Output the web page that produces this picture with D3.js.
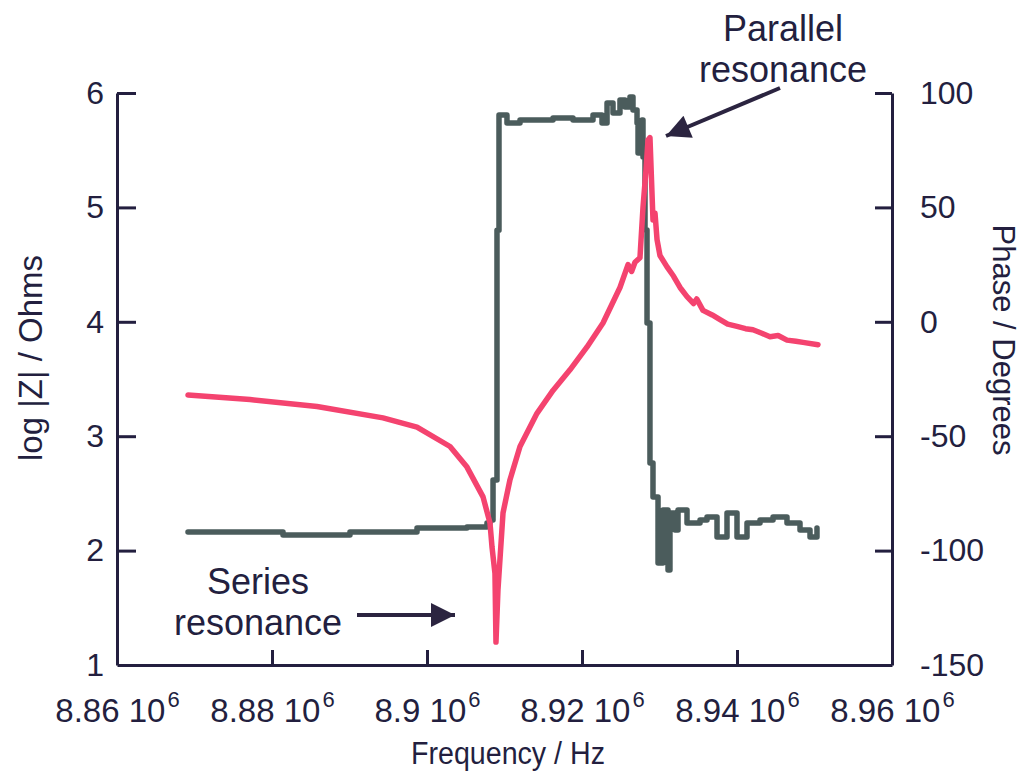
<!DOCTYPE html>
<html>
<head>
<meta charset="utf-8">
<script src="https://cdn.jsdelivr.net/npm/d3@7"></script>
<style>
  body { margin: 0; background: #fff; }
  svg text { fill: #231f3f; }
</style>
</head>
<body>
<svg id="chart" width="1024" height="773"></svg>
<script>
// impedance magnitude, log10 |Z| vs frequency (Hz)
var freqZ = [8.86916e6, 8.87716e6, 8.88581e6, 8.89432e6, 8.89871e6, 8.90297e6, 8.90516e6, 8.90723e6,
  8.90813e6, 8.90839e6, 8.90877e6, 8.90890e6, 8.90916e6, 8.90981e6, 8.91071e6, 8.91200e6, 8.91419e6,
  8.91626e6, 8.91845e6, 8.92065e6, 8.92271e6, 8.92490e6, 8.92594e6, 8.92640e6, 8.92684e6, 8.92748e6,
  8.92787e6, 8.92826e6, 8.92852e6, 8.92877e6, 8.92916e6, 8.92942e6, 8.92968e6, 8.93006e6, 8.93097e6,
  8.93180e6, 8.93265e6, 8.93355e6, 8.93440e6, 8.93480e6, 8.93561e6, 8.93680e6, 8.93781e6, 8.93880e6,
  8.94000e6, 8.94110e6, 8.94206e6, 8.94320e6, 8.94426e6, 8.94530e6, 8.94645e6, 8.94760e6, 8.94852e6,
  8.95045e6];
var logZ = [3.36, 3.32, 3.26, 3.16, 3.08, 2.91, 2.73, 2.47,
  2.24, 2.03, 1.80, 1.20, 1.66, 2.33, 2.62, 2.91, 3.20,
  3.40, 3.58, 3.78, 3.99, 4.30, 4.50, 4.44, 4.52, 4.56,
  5.00, 5.33, 5.59, 5.61, 4.89, 4.95, 4.72, 4.58, 4.48,
  4.40, 4.30, 4.22, 4.16, 4.20, 4.10, 4.06, 4.02, 3.98,
  3.96, 3.94, 3.93, 3.90, 3.87, 3.88, 3.84, 3.83, 3.82,
  3.80];

// phase angle in degrees vs frequency (Hz)
var freqP = [8.86916e6, 8.87716e6, 8.88142e6, 8.89006e6, 8.89871e6, 8.90516e6, 8.90774e6, 8.90813e6,
  8.90852e6, 8.90903e6, 8.90929e6, 8.91032e6, 8.91200e6, 8.91626e6, 8.91884e6, 8.92142e6, 8.92258e6,
  8.92323e6, 8.92400e6, 8.92490e6, 8.92555e6, 8.92619e6, 8.92658e6, 8.92710e6, 8.92723e6, 8.92774e6,
  8.92787e6, 8.92813e6, 8.92839e6, 8.92877e6, 8.92916e6, 8.92981e6, 8.93045e6, 8.93110e6, 8.93135e6,
  8.93200e6, 8.93239e6, 8.93355e6, 8.93523e6, 8.93613e6, 8.93742e6, 8.93871e6, 8.94000e6, 8.94129e6,
  8.94297e6, 8.94465e6, 8.94645e6, 8.94813e6, 8.94942e6, 8.95032e6];
var phase = [-91.9, -91.9, -93.2, -91.9, -90.1, -89.7, -87.9, -86.6,
  -69.1, 40.0, 90.4, 86.9, 88.2, 89.1, 88.2, 90.4, 86.9,
  95.6, 91.3, 96.9, 93.9, 98.3, 92.6, 86.9, 73.8, 88.2,
  72.0, 40.1, -0.5, -61.7, -76.6, -105.4, -82.3, -108.5, -83.6,
  -91.0, -82.3, -87.9, -86.6, -85.3, -94.1, -83.6, -94.1, -87.9,
  -86.6, -85.3, -87.9, -91.0, -94.1, -90.1];

var xTicks = [8.86e6, 8.88e6, 8.90e6, 8.92e6, 8.94e6, 8.96e6];
var leftTicks = [1, 2, 3, 4, 5, 6];
var rightTicks = [-150, -100, -50, 0, 50, 100];

var margin = {left: 117, top: 93, right: 132, bottom: 108};
var W = 1024 - margin.left - margin.right;
var H = 773 - margin.top - margin.bottom;
var ink = "#231f3f";
var font = "'Liberation Sans',Arial,sans-serif";

var svg = d3.select("#chart");
var g = svg.append("g").attr("transform", "translate(" + margin.left + "," + margin.top + ")");

var x = d3.scaleLinear().domain([8.86e6, 8.96e6]).range([0, W]);
var yL = d3.scaleLinear().domain([1, 6]).range([H, 0]);
var yR = d3.scaleLinear().domain([-150, 100]).range([H, 0]);

// axes, ticks pointing inward
var ax = g.append("g").attr("class", "xaxis").attr("transform", "translate(0," + H + ")")
  .call(d3.axisBottom(x).tickValues(xTicks).tickSizeInner(-15).tickSizeOuter(0).tickPadding(0));
ax.selectAll(".tick text").each(function(d) {
  var t = d3.select(this).text(null)
    .attr("y", 57).attr("dy", null)
    .style("font-family", font).style("font-size", "33px");
  t.append("tspan").text(d3.format(".3~f")(d / 1e6) + " 10");
  t.append("tspan").attr("dy", -15).attr("dx", 2).style("font-size", "22px").text("6");
});

var al = g.append("g").attr("class", "yleft")
  .call(d3.axisLeft(yL).tickValues(leftTicks).tickFormat(d3.format("d"))
    .tickSizeInner(-19).tickSizeOuter(0).tickPadding(13));
al.selectAll(".tick line").filter(function(d) { return d === 1; }).remove();

var ar = g.append("g").attr("class", "yright").attr("transform", "translate(" + W + ",0)")
  .call(d3.axisRight(yR).tickValues(rightTicks).tickFormat(function(d) { return String(d); })
    .tickSizeInner(-17).tickSizeOuter(0).tickPadding(28));
ar.selectAll(".tick line").filter(function(d) { return d === -150; }).remove();

g.selectAll(".yleft text, .yright text")
  .style("font-family", font).style("font-size", "32px");
g.selectAll(".domain, .tick line").attr("stroke", ink).attr("stroke-width", 3);
g.selectAll(".tick text").attr("fill", ink);

// traces
var lineP = d3.line().curve(d3.curveStepAfter)
  .x(function(d, i) { return x(freqP[i]); }).y(function(d) { return yR(d); });
var lineZ = d3.line()
  .x(function(d, i) { return x(freqZ[i]); }).y(function(d) { return yL(d); });

g.append("path").datum(phase).attr("d", lineP)
  .attr("fill", "none").attr("stroke", "#4b5c5c").attr("stroke-width", 5.5)
  .attr("stroke-linejoin", "round").attr("stroke-linecap", "round");
g.append("path").datum(logZ).attr("d", lineZ)
  .attr("fill", "none").attr("stroke", "#f4436f").attr("stroke-width", 5.5)
  .attr("stroke-linejoin", "round").attr("stroke-linecap", "round");

// axis titles
svg.append("text").attr("transform", "translate(42,358) rotate(-90)")
  .attr("text-anchor", "middle").style("font-family", font).style("font-size", "33px")
  .text("log |Z| / Ohms");
svg.append("text").attr("transform", "translate(993,340) rotate(90)")
  .attr("text-anchor", "middle").style("font-family", font).style("font-size", "31px")
  .text("Phase / Degrees");
svg.append("text").attr("x", 508).attr("y", 764)
  .attr("text-anchor", "middle").style("font-family", font).style("font-size", "31px")
  .attr("textLength", 194).attr("lengthAdjust", "spacingAndGlyphs")
  .text("Frequency / Hz");

// annotations
svg.append("defs").append("marker").attr("id", "head")
  .attr("viewBox", "0 0 10 10").attr("refX", 10).attr("refY", 5)
  .attr("markerWidth", 7).attr("markerHeight", 6).attr("markerUnits", "strokeWidth")
  .attr("orient", "auto")
  .append("path").attr("d", "M0,0L10,5L0,10z").attr("fill", "#2b2440");

function note(lines, cx, y0) {
  var t = svg.append("text").attr("text-anchor", "middle")
    .style("font-family", font).style("font-size", "36px");
  lines.forEach(function(s, i) {
    t.append("tspan").attr("x", cx).attr("y", y0 + i * 41).text(s);
  });
}
note(["Parallel", "resonance"], 783, 41);
note(["Series", "resonance"], 258, 594);

svg.append("line").attr("x1", 357).attr("y1", 615).attr("x2", 455).attr("y2", 615)
  .attr("stroke", "#2b2440").attr("stroke-width", 4).attr("marker-end", "url(#head)");
svg.append("line").attr("x1", 780).attr("y1", 88).attr("x2", 666).attr("y2", 136)
  .attr("stroke", "#2b2440").attr("stroke-width", 4).attr("marker-end", "url(#head)");
</script>
</body>
</html>
